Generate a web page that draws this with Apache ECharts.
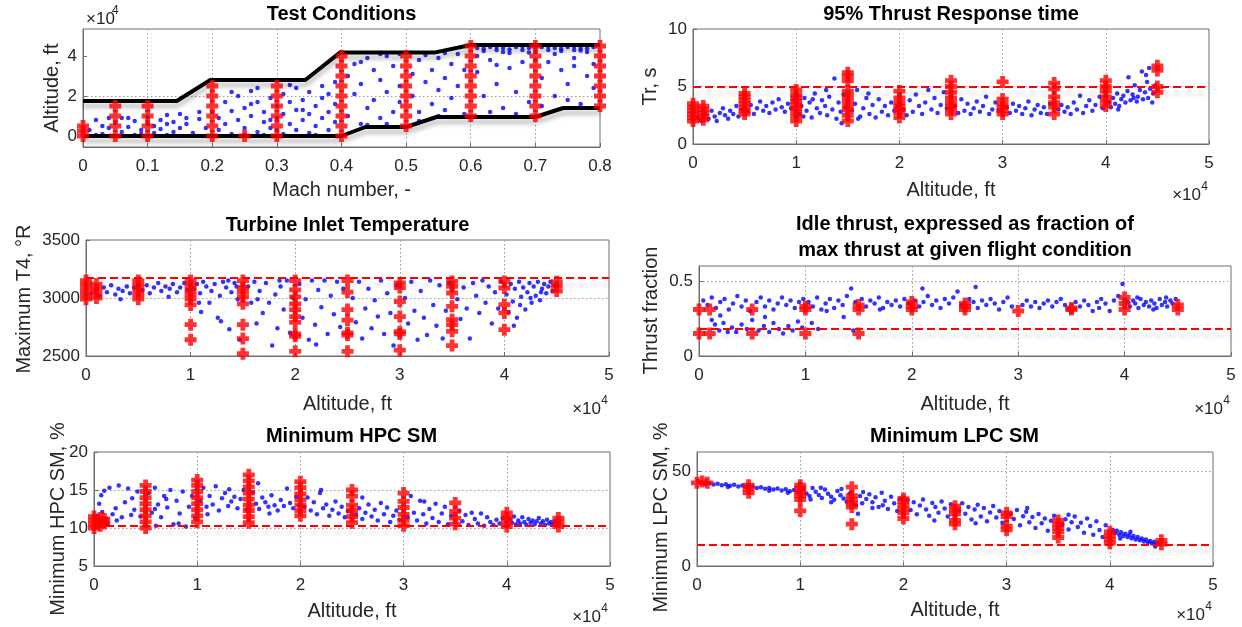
<!DOCTYPE html>
<html><head><meta charset="utf-8">
<script src="https://cdn.jsdelivr.net/npm/echarts@6/dist/echarts.min.js"></script>
<style>html,body{margin:0;padding:0;background:#fff}#c{width:1242px;height:627px}</style>
</head><body><div id="c"></div>
<script>
// ---------------- DATA ----------------
// Panel 1: Test conditions (Mach, altitude in kft)
const envUpper = [[0,17.5],[0.145,17.5],[0.197,28],[0.344,28],[0.398,41.8],[0.545,41.8],[0.6,45.5],[0.8,45.5]];
const envLower = [[0,0],[0.4,0],[0.437,4.5],[0.5,4.5],[0.547,9.5],[0.7,9.5],[0.743,14],[0.8,14]];
const condRed = [[0,0],[0,2.5],[0,5],
 [0.05,0],[0.05,5],[0.05,10],[0.05,15],
 [0.1,0],[0.1,5],[0.1,10],[0.1,15],
 [0.2,0],[0.2,5],[0.2,10],[0.2,15],[0.2,20],[0.2,25],
 [0.25,0],
 [0.3,0],[0.3,5],[0.3,10],[0.3,15],[0.3,20],[0.3,25],
 [0.4,0],[0.4,5],[0.4,10],[0.4,15],[0.4,20],[0.4,25],[0.4,30],[0.4,35],[0.4,40],
 [0.5,5],[0.5,10],[0.5,15],[0.5,20],[0.5,25],[0.5,30],[0.5,35],[0.5,40],
 [0.6,10],[0.6,15],[0.6,20],[0.6,25],[0.6,30],[0.6,35],[0.6,40],[0.6,45],
 [0.7,10],[0.7,15],[0.7,20],[0.7,25],[0.7,30],[0.7,35],[0.7,40],[0.7,45],
 [0.8,15],[0.8,20],[0.8,25],[0.8,30],[0.8,35],[0.8,40],[0.8,45]];
const condBlue = [
 [0.01,3],[0.02,8],[0.03,5],[0.03,1],[0.04,9],[0.05,6.5],[0.06,2],[0.06,9],[0.07,4.5],[0.08,7.5],[0.08,0.5],[0.09,3],[0.1,9.5],[0.11,5],[0.11,1.5],[0.12,8],[0.12,3.5],[0.13,6],[0.13,10.5],[0.14,2],[0.14,7],[0.15,4],[0.15,11],[0.02,0.5],[0.04,4],[0.07,9],[0.1,6],[0.09,1],[0.13,0.5],[0.16,9],[0.16,6],[0.17,1.5],[0.18,8.5],[0.18,12],[0.19,4],
 [0.2,12],[0.21,3],[0.21,9],[0.22,17],[0.22,6],[0.23,1],[0.23,12.5],[0.24,20],[0.24,8],[0.25,14],[0.25,4],[0.26,10],[0.26,22.5],[0.27,2],[0.27,17],[0.28,7],[0.28,12],[0.29,19],[0.29,4],[0.3,9],[0.3,15],[0.31,1],[0.31,11],[0.31,21],[0.32,6],[0.32,17],[0.33,3],[0.33,13],[0.33,24],[0.34,8],[0.34,18],[0.35,1.5],[0.35,11],[0.35,22],[0.36,5],[0.36,15],[0.37,9],[0.37,25],[0.37,19],[0.38,3],[0.38,12],[0.38,21],[0.39,7],[0.39,16],[0.39,27],[0.36,0.5],[0.32,25.5],[0.27,24],[0.23,22],[0.3,3],[0.25,0.5],[0.28,0.5],[0.34,13],[0.29,8],[0.26,16],
 [0.41,10],[0.41,30],[0.42,21],[0.42,36],[0.43,6],[0.43,26],[0.44,14],[0.44,39],[0.45,33],[0.45,18],[0.46,9],[0.46,28],[0.47,22],[0.47,40],[0.48,12],[0.48,35],[0.49,25],[0.49,17],[0.51,31],[0.51,20],[0.52,38],[0.52,12],[0.53,27],[0.53,40.5],[0.54,16],[0.54,33],[0.55,23],[0.55,39],[0.56,13],[0.56,29],[0.57,36],[0.57,19],[0.58,41],[0.58,25],[0.59,11],[0.59,33],[0.44,5.5],[0.47,6],[0.52,7.5],[0.55,10],[0.43,37],[0.49,41],[0.56,41.5],[0.46,41],
 [0.61,44],[0.61,32],[0.62,42.5],[0.62,20],[0.63,44.5],[0.63,38],[0.64,43],[0.64,26],[0.65,44],[0.65,14],[0.66,41.5],[0.66,34],[0.67,44.5],[0.67,22],[0.68,43],[0.68,37],[0.69,44],[0.69,17],[0.7,42],[0.71,44.5],[0.71,29],[0.72,43],[0.72,37],[0.73,44],[0.73,20],[0.74,42.5],[0.74,33],[0.75,44.5],[0.75,26],[0.76,43],[0.76,39],[0.77,44],[0.77,16],[0.78,42],[0.78,30],[0.79,44.5],[0.79,36],[0.62,43.8],[0.64,44.6],[0.66,43.2],[0.68,44.8],[0.7,44.2],[0.72,44.8],[0.74,43.6],[0.76,44.7],[0.78,43.9],[0.65,42],[0.69,41.8],[0.73,41],[0.77,42.8],[0.63,12],[0.67,11],[0.71,15],[0.75,18],[0.61,40],[0.79,24],[0.64,35.5],[0.7,38],[0.76,35]];

// Panel 2: 95% thrust response time (altitude kft, s)
const trLimit = 5;
const trRed = [[0,2.0],[0,2.3],[0,2.6],[0,2.9],[0,3.2],[0,3.5],[1,2.1],[1,2.4],[1,2.7],[1,3.0],[1,3.3],
 [5,2.6],[5,2.9],[5,3.2],[5,3.5],[5,3.8],[5,4.1],[5,4.4],
 [10,2.0],[10,2.4],[10,2.8],[10,3.1],[10,3.4],[10,3.7],[10,4.0],[10,4.3],[10,4.7],
 [15,2.0],[15,2.5],[15,3.0],[15,3.4],[15,3.8],[15,4.2],[15,4.6],[15,5.5],[15,5.9],[15,6.2],
 [20,2.3],[20,2.7],[20,3.0],[20,3.3],[20,3.6],[20,4.0],[20,4.6],
 [25,2.6],[25,3.0],[25,3.3],[25,3.6],[25,4.0],[25,4.5],[25,5.0],[25,5.5],
 [30,2.6],[30,2.9],[30,3.2],[30,3.5],[30,3.9],[30,5.4],
 [35,2.6],[35,3.2],[35,3.6],[35,4.1],[35,4.8],[35,5.3],
 [40,3.3],[40,3.7],[40,4.1],[40,4.6],[40,5.0],[40,5.5],
 [45,4.5],[45,5.0],[45,6.4],[45,6.8]];
const trBlue = [
 [0.5,2.3],[0.8,2.0],[1.2,2.6],[1.5,2.2],[1.8,2.9],[2.1,2.4],[2.3,2.0],[2.6,2.7],[2.9,3.1],[3.1,2.5],[3.4,2.2],[3.6,2.9],[3.9,2.6],[4.2,3.3],[4.4,2.4],[4.7,3.0],[5.3,2.8],[5.6,3.4],[5.9,2.6],[6.2,3.1],[6.5,3.7],[6.8,2.9],[7.1,3.3],[7.4,2.7],[7.7,3.6],[8.0,3.0],[8.3,3.9],[8.6,3.2],[8.9,2.8],[9.2,3.5],[9.5,3.1],[9.8,3.8],
 [10.3,2.6],[10.5,3.3],[10.8,4.0],[11.0,2.9],[11.3,3.6],[11.5,2.3],[11.8,4.4],[12.0,3.1],[12.3,2.7],[12.5,3.8],[12.8,3.3],[13.0,2.5],[13.2,4.1],[13.5,3.0],[13.7,5.7],[13.9,2.2],[14.1,3.6],[14.3,2.8],[14.6,4.3],[14.8,3.2],[14.4,1.8],[12.9,4.7],[11.6,3.9],[10.7,2.4],
 [15.4,2.9],[15.7,3.5],[15.9,4.7],[16.2,2.4],[16.5,3.1],[16.8,4.0],[17.1,2.6],[17.4,3.4],[17.7,2.3],[18.0,3.9],[18.3,2.8],[18.6,3.3],[18.9,2.5],[19.2,3.6],[19.5,2.9],[19.8,3.2],[16.0,2.2],[17.0,4.4],
 [20.4,3.0],[20.7,2.5],[21.0,3.8],[21.3,2.8],[21.6,4.3],[21.9,3.3],[22.2,2.6],[22.5,3.6],[22.8,4.7],[23.1,3.0],[23.4,4.0],[23.7,2.7],[24.0,3.4],[24.3,4.5],[24.6,3.1],[25.4,3.3],[25.7,2.7],[26.0,3.9],[26.3,2.9],[26.6,3.5],[26.9,2.6],[27.2,3.1],[27.5,3.7],[27.8,2.8],[28.1,3.3],[28.4,4.1],[28.7,2.6],[29.0,3.0],[29.3,3.6],[29.6,2.9],
 [30.4,3.2],[30.7,2.7],[31.0,3.5],[31.3,2.9],[31.6,3.3],[31.9,2.6],[32.2,3.1],[32.5,3.7],[32.8,2.5],[33.1,3.0],[33.4,3.4],[33.7,2.7],[34.0,3.2],[34.3,2.6],[34.6,3.5],[35.4,3.0],[35.7,3.4],[36.0,2.8],[36.3,3.2],[36.6,2.6],[36.9,3.6],[37.2,3.0],[37.5,4.2],[37.8,2.7],[38.1,3.3],[38.4,3.8],[38.7,2.9],[39.0,3.4],[39.4,4.1],[39.7,3.1],
 [40.3,3.6],[40.5,3.2],[40.7,4.0],[40.9,3.5],[41.1,4.4],[41.3,3.3],[41.5,3.9],[41.7,4.2],[41.9,3.6],[42.1,4.6],[42.2,5.8],[42.4,3.8],[42.6,4.3],[42.8,5.1],[43.0,3.7],[43.1,4.1],[43.3,4.7],[43.5,6.3],[43.6,3.9],[43.8,4.5],[44.0,5.4],[44.1,4.0],[44.3,4.8],[44.5,3.6],[44.6,4.4],[44.8,5.1],[43.9,6.0],[42.7,4.0],[41.2,3.0],[44.2,6.6]];

// Panel 3: maximum T4 (altitude kft, degR)
const t4Limit = 3175;
const t4Red = [[0,2990],[0,3030],[0,3070],[0,3110],[0,3150],[1,3000],[1,3040],[1,3080],[1,3120],
 [5,2990],[5,3030],[5,3070],[5,3110],[5,3150],
 [10,2640],[10,2770],[10,2940],[10,2990],[10,3030],[10,3070],[10,3110],[10,3150],
 [15,2520],[15,2650],[15,2770],[15,2950],[15,3010],[15,3050],[15,3090],[15,3150],
 [20,2540],[20,2670],[20,2690],[20,2790],[20,2840],[20,2900],[20,2950],[20,3010],[20,3070],[20,3150],
 [25,2540],[25,2680],[25,2700],[25,2810],[25,2900],[25,3050],[25,3150],
 [30,2550],[30,2690],[30,2710],[30,2840],[30,2970],[30,3090],[30,3130],
 [35,2590],[35,2713],[35,2770],[35,2813],[35,2928],[35,3043],[35,3100],[35,3143],
 [40,2727],[40,2871],[40,2942],[40,3086],[40,3143],
 [45,3060],[45,3100],[45,3140]];
const t4Blue = [
 [0.5,3040],[0.9,3070],[1.3,3020],[1.7,3090],[2.0,3050],[2.4,3110],[2.8,3030],[3.1,3080],[3.5,3060],[3.9,3100],[4.2,3040],[4.6,3090],[5.4,3070],[5.8,3110],[6.1,3040],[6.5,3090],[6.9,3130],[7.2,3060],[7.6,3100],[8.0,3080],[8.3,3120],[8.7,3050],[9.0,3090],[9.4,3130],[9.7,3070],[3.3,2990],[7.9,3010],
 [10.3,3080],[10.6,3120],[10.9,3040],[11.2,3140],[11.5,3100],[11.8,2960],[12.0,3060],[12.3,3120],[12.6,2830],[12.8,3020],[13.1,3140],[13.4,3090],[13.7,2730],[13.9,3050],[14.2,3130],[14.5,2990],[14.7,2640],[11.0,2880],[12.9,2800],[14.4,3100],[10.8,2960],[13.6,3150],
 [15.5,3100],[15.8,2960],[16.1,3140],[16.3,2780],[16.6,3060],[16.9,2870],[17.2,3130],[17.5,2960],[17.8,2590],[18.1,3030],[18.3,2740],[18.6,3100],[18.9,2900],[19.2,3150],[19.5,2700],[19.8,3000],[20.4,3120],[20.7,2830],[21.0,2990],[21.3,2640],[21.6,3150],[21.9,2770],[22.2,3070],[22.5,2920],[22.8,3150],[23.1,2690],[23.4,3020],[23.7,2860],[24.0,3140],[24.3,2750],[24.6,3080],[16.4,2990],[18.5,3150],[22.0,2600],
 [25.5,3000],[25.8,2790],[26.1,3140],[26.4,2650],[26.7,2910],[27.0,3080],[27.3,2740],[27.6,2980],[27.9,2840],[28.2,3150],[28.5,2690],[28.8,3040],[29.1,2870],[29.4,2590],[29.7,3110],[30.5,3000],[30.8,2780],[31.1,3140],[31.4,2890],[31.7,2640],[32.0,3060],[32.3,2830],[32.6,2680],[32.9,3150],[33.2,2940],[33.5,2760],[33.8,3110],[34.1,2650],[34.4,2890],[34.7,3130],[35.5,2990],[35.8,2820],[36.1,3090],[36.4,2910],[36.7,2650],[37.0,3130],[37.3,3020],[37.6,2870],[37.9,3150],[38.2,2960],[38.5,3100],[38.8,2780],[39.1,3050],[39.4,2910],[39.7,3140],
 [40.2,3030],[40.4,2880],[40.6,3120],[40.8,2970],[41.0,3080],[41.2,2830],[41.4,3140],[41.6,3010],[41.8,3090],[42.0,2900],[42.2,3050],[42.4,3130],[42.6,2960],[42.8,3100],[43.0,3020],[43.2,3140],[43.4,2980],[43.6,3080],[43.8,3120],[44.0,3040],[44.2,3100],[44.4,3140],[44.6,3060],[44.8,3110],[42.5,3000],[43.5,3050],[41.5,2940],[40.9,2760]];

// Panel 4: idle thrust fraction (altitude kft, fraction)
const idleLimit = 0.18;
const idleRed = [[0,0.15],[0,0.31],[1,0.15],[1,0.31],[5,0.15],[5,0.31],[10,0.15],[10,0.31],[10,0.33],[15,0.15],[15,0.31],[15,0.34],
 [20,0.31],[20,0.33],[20,0.36],[25,0.31],[25,0.33],[25,0.35],[30,0.30],[35,0.31],[35,0.32],[40,0.31],[40,0.35],[40,0.39],[45,0.31],[45,0.34]];
const idleBlue = [
 [0.4,0.37],[0.8,0.34],[1.2,0.39],[1.6,0.32],[2.0,0.36],[2.4,0.38],[2.8,0.31],[3.2,0.35],[3.6,0.40],[4.0,0.33],[4.4,0.37],[4.8,0.30],[5.4,0.36],[5.8,0.39],[6.2,0.33],[6.6,0.37],[7.0,0.31],[7.4,0.35],[7.8,0.39],[8.2,0.34],[8.6,0.37],[9.0,0.32],[9.4,0.36],[9.8,0.38],
 [1.2,0.24],[1.5,0.21],[1.9,0.17],[2.3,0.22],[2.7,0.16],[3.1,0.19],[3.5,0.16],[4.0,0.21],[4.5,0.18],[5.0,0.24],[5.6,0.17],[6.1,0.20],[6.6,0.16],[7.0,0.22],[7.5,0.18],[7.9,0.15],[8.4,0.20],[8.8,0.17],[9.3,0.23],[9.7,0.19],[10.6,0.22],[11.2,0.18],[13.6,0.26],[14.5,0.17],[2.0,0.27],[6.2,0.26],
 [10.3,0.36],[10.7,0.33],[11.1,0.39],[11.5,0.31],[11.9,0.35],[12.3,0.38],[12.7,0.32],[13.1,0.37],[13.5,0.34],[13.9,0.40],[14.3,0.45],[14.7,0.36],[15.3,0.38],[15.7,0.33],[16.1,0.37],[16.5,0.35],[16.9,0.39],[17.3,0.32],[17.7,0.36],[18.1,0.34],[18.5,0.37],[18.9,0.33],[19.3,0.38],[19.7,0.35],[12.0,0.30],[17.0,0.31],
 [20.3,0.37],[20.7,0.33],[21.1,0.36],[21.5,0.40],[21.9,0.34],[22.3,0.37],[22.7,0.32],[23.1,0.38],[23.5,0.35],[23.9,0.39],[24.3,0.43],[24.7,0.34],[25.4,0.38],[25.8,0.36],[26.2,0.32],[26.6,0.37],[27.0,0.34],[27.4,0.38],[27.8,0.35],[28.2,0.31],[28.6,0.36],[29.0,0.39],[29.4,0.33],[26.0,0.46],[21.0,0.45],
 [30.4,0.34],[30.8,0.37],[31.2,0.33],[31.6,0.36],[32.0,0.32],[32.4,0.35],[32.8,0.37],[33.2,0.33],[33.6,0.36],[34.0,0.38],[34.4,0.34],[34.8,0.31],[35.4,0.36],[35.8,0.33],[36.2,0.37],[36.6,0.34],[37.0,0.30],[37.4,0.36],[37.8,0.38],[38.2,0.35],[38.6,0.30],[39.0,0.37],[39.4,0.40],[39.8,0.48],[37.6,0.32],
 [40.3,0.36],[40.5,0.33],[40.8,0.37],[41.0,0.35],[41.3,0.32],[41.5,0.38],[41.8,0.34],[42.0,0.36],[42.3,0.33],[42.5,0.37],[42.8,0.35],[43.0,0.32],[43.3,0.38],[43.5,0.34],[43.8,0.36],[44.0,0.33],[44.3,0.37],[44.5,0.35],[44.8,0.38],[41.2,0.39],[42.7,0.31],[43.9,0.39]];

// Panel 5: minimum HPC stall margin (altitude kft, %)
const hpcLimit = 10.3;
const hpcRed = [[0,10.0],[0,10.5],[0,11.0],[0,11.5],[0.6,10.3],[0.6,10.8],[0.6,11.3],[1,10.6],[1,11.2],
 [5,10.0],[5,10.8],[5,11.6],[5,12.4],[5,13.2],[5,14.0],[5,14.8],[5,15.6],
 [10,10.8],[10,11.6],[10,12.4],[10,13.2],[10,14.0],[10,14.8],[10,15.6],[10,16.3],
 [15,10.7],[15,11.5],[15,12.3],[15,13.0],[15,13.8],[15,14.6],[15,15.4],[15,16.2],[15,17.0],
 [20,11.6],[20,12.3],[20,13.0],[20,13.7],[20,14.5],[20,15.3],[20,16.1],
 [25,10.7],[25,11.5],[25,12.3],[25,13.0],[25,14.2],[25,15.0],
 [30,10.3],[30,11.0],[30,11.8],[30,12.7],[30,13.5],[30,14.6],
 [35,10.5],[35,11.3],[35,12.2],[35,13.3],
 [40,10.2],[40,10.8],[40,11.4],[40,12.0],
 [45,10.2],[45,10.8],[45,11.3]];
const hpcBlue = [
 [0.3,11.6],[0.5,13.2],[0.8,12.1],[1.0,14.9],[1.2,11.2],[1.5,15.3],[1.8,11.8],[2.1,12.6],[2.4,15.6],[2.7,11.4],[3.0,13.4],[3.3,15.2],[3.6,11.7],[3.9,12.4],[4.2,14.8],[4.5,11.5],[2.2,11.0],[3.7,13.9],[1.3,10.7],[0.7,14.3],
 [5.3,14.6],[5.6,12.0],[5.9,15.3],[6.2,13.1],[6.5,11.4],[6.8,14.2],[7.1,12.7],[7.4,15.0],[7.7,10.5],[8.0,13.6],[8.3,11.9],[8.6,14.8],[8.9,10.2],[9.2,12.8],[9.5,14.2],[9.8,11.3],[6.0,10.3],[8.2,10.6],[7.0,13.8],[5.9,12.5],
 [10.3,13.6],[10.6,15.3],[10.9,12.8],[11.2,14.2],[11.5,13.1],[11.8,15.5],[12.1,12.3],[12.4,13.9],[12.7,14.6],[13.0,12.9],[13.3,13.5],[13.6,14.1],[13.9,12.6],[14.2,13.8],[14.5,15.0],[14.8,12.4],[15.4,14.7],[15.7,13.2],[16.0,12.5],[16.3,14.0],[16.6,13.4],[16.9,12.8],[17.2,14.3],[17.5,13.0],[17.8,12.3],[18.1,13.7],[18.4,12.9],[18.7,15.2],[19.0,13.3],[19.3,12.6],[19.6,14.1],[19.9,13.0],[11.0,11.8],[15.9,15.9],[13.1,15.1],[17.0,11.9],
 [20.4,12.8],[20.7,14.0],[21.0,12.3],[21.3,13.4],[21.6,11.8],[21.9,14.6],[22.2,12.6],[22.5,13.1],[22.8,11.6],[23.1,12.4],[23.4,13.5],[23.7,11.9],[24.0,12.8],[24.3,11.4],[24.6,12.2],[25.4,11.7],[25.7,12.6],[26.0,11.2],[26.3,12.0],[26.6,13.1],[26.9,11.5],[27.2,12.4],[27.5,11.0],[27.8,13.3],[28.1,11.8],[28.4,12.7],[28.7,10.8],[29.0,11.6],[29.3,12.3],[29.6,11.1],[22.0,15.0],[26.0,14.0],
 [30.4,11.4],[30.7,14.2],[31.0,12.0],[31.3,11.0],[31.6,13.6],[31.9,11.8],[32.2,10.6],[32.5,12.5],[32.8,11.3],[33.1,13.2],[33.4,10.8],[33.7,11.9],[34.0,12.8],[34.3,10.5],[34.6,11.6],[35.4,12.3],[35.7,10.9],[36.0,11.7],[36.3,10.4],[36.6,12.0],[36.9,11.2],[37.2,10.6],[37.5,11.9],[37.8,10.3],[38.1,11.4],[38.4,10.8],[38.7,10.4],[39.0,11.1],[39.3,10.6],[39.6,11.3],[32.0,13.5],
 [40.3,11.2],[40.5,10.7],[40.7,11.5],[40.9,10.5],[41.1,11.0],[41.3,10.6],[41.5,11.4],[41.7,10.8],[41.9,10.4],[42.1,11.2],[42.3,10.7],[42.5,11.0],[42.7,10.5],[42.9,10.9],[43.1,11.3],[43.3,10.6],[43.5,10.9],[43.7,10.4],[43.9,11.1],[44.1,10.6],[44.3,10.8],[44.5,10.5],[44.7,10.9]];

// Panel 6: minimum LPC stall margin (altitude kft, %)
const lpcLimit = 11;
const lpcRed = [[0,43.8],[1,43.8],[0.5,44.5],
 [5,38.5],[5,40.5],[5,42.5],
 [10,29],[10,35],[10,37],[10,39],[10,41],[10,42.5],
 [15,22],[15,31],[15,33],[15,35],[15,37],[15,41.5],
 [20,25],[20,28],[20,30],[20,32],[20,34],[20,35.5],
 [25,22],[25,24],[25,27.5],[25,29.5],[25,31.5],
 [30,19],[30,21],[30,26],[30,28],
 [35,15],[35,18],[35,20],[35,22],[35,24],
 [40,12],[40,14],[40,16],[40,18],
 [45,11.5],[45,13.5]];
const lpcBlue = [
 [0.4,43.8],[0.8,43.2],[1.2,43.6],[1.6,42.9],[2.0,43.3],[2.4,42.5],[2.8,43.0],[3.2,42.2],[3.6,42.7],[4.0,41.9],[4.4,42.4],[4.8,41.6],[5.4,41.8],[5.8,41.0],[6.2,41.5],[6.6,40.6],[7.0,41.1],[7.4,40.2],[7.8,40.8],[8.2,39.8],[8.6,40.4],[9.0,39.4],[9.4,40.0],[9.8,38.9],[3.0,41.6],[7.0,39.6],[5.0,42.5],[8.8,38.5],
 [10.3,40.5],[10.6,38.2],[10.9,36.8],[11.2,41.0],[11.5,39.1],[11.8,37.4],[12.1,35.8],[12.4,40.3],[12.7,38.0],[13.0,36.5],[13.3,34.9],[13.6,39.5],[13.9,37.2],[14.2,35.5],[14.5,33.8],[14.8,38.2],[11.0,35.0],[13.0,33.5],[14.0,40.5],[12.0,41.2],
 [15.4,32.0],[15.6,27.5],[15.8,36.8],[16.1,39.0],[16.4,35.2],[16.7,37.8],[17.0,33.5],[17.3,36.2],[17.6,31.0],[17.9,38.5],[18.2,34.4],[18.5,30.0],[18.8,36.5],[19.1,33.0],[19.4,29.0],[19.7,35.5],[16.0,33.0],[18.0,32.0],[17.0,30.5],
 [20.4,34.8],[20.7,29.5],[21.0,33.6],[21.3,27.2],[21.6,31.8],[21.9,35.0],[22.2,29.8],[22.5,26.5],[22.8,33.2],[23.1,31.0],[23.4,28.0],[23.7,34.0],[24.0,30.2],[24.3,26.0],[24.6,32.5],[25.4,29.2],[25.7,33.0],[26.0,27.5],[26.3,31.0],[26.6,24.5],[26.9,29.8],[27.2,32.2],[27.5,26.0],[27.8,30.5],[28.1,23.5],[28.4,28.2],[28.7,31.6],[29.0,25.5],[29.3,29.0],[29.6,22.8],[23.0,24.0],[27.0,22.5],
 [30.4,27.5],[30.7,24.8],[31.0,29.5],[31.3,21.5],[31.6,26.2],[31.9,28.6],[32.2,23.0],[32.5,25.8],[32.8,20.0],[33.1,27.4],[33.4,22.5],[33.7,25.0],[34.0,18.5],[34.3,23.8],[34.6,26.5],[35.4,21.8],[35.7,24.6],[36.0,19.2],[36.3,23.0],[36.6,26.0],[36.9,20.5],[37.2,22.8],[37.5,17.5],[37.8,25.0],[38.1,21.0],[38.4,16.5],[38.7,23.5],[39.0,19.0],[39.3,15.2],[39.6,21.5],[32.0,30.5],[36.0,27.0],
 [40.3,19.0],[40.5,17.2],[40.7,18.6],[40.9,16.4],[41.1,17.8],[41.3,15.8],[41.5,17.0],[41.7,15.2],[41.9,16.5],[42.1,14.6],[42.3,15.8],[42.5,14.0],[42.7,15.2],[42.9,13.5],[43.1,14.5],[43.3,12.9],[43.5,13.9],[43.7,12.4],[43.9,13.2],[44.1,11.9],[44.3,12.7],[44.5,11.5],[44.7,12.2],[44.4,10.3],[41.0,14.5],[42.0,18.0]];

// Tick values / texts
const condAltTicks = [0, 20, 40];
const titles = ['Test Conditions', '95% Thrust Response time', 'Turbine Inlet Temperature',
  'Idle thrust, expressed as fraction of', 'max thrust at given flight condition', 'Minimum HPC SM', 'Minimum LPC SM'];
const xNames = ['Mach number, -', 'Altitude, ft', 'Altitude, ft', 'Altitude, ft', 'Altitude, ft', 'Altitude, ft'];
const yNames = ['Altitude, ft', 'Tr, s', 'Maximum T4, \u00B0R', 'Thrust fraction', 'Minimum HPC SM, %', 'Minimum LPC SM, %'];

// ---------------- CHART ----------------
const FF = '"Liberation Sans", Arial, Helvetica, sans-serif';
const TXT = '#262626';
const BOX = '#6e6e6e';
const PLUS = 'path://M3,0H7V3H10V7H7V10H3V7H0V3H3Z';

const grids = [
  {left:83, top:29, width:517, height:118},
  {left:693, top:29, width:516, height:115},
  {left:86, top:240, width:523, height:116},
  {left:699, top:266, width:532, height:90},
  {left:94, top:452, width:516, height:114},
  {left:697, top:452, width:516, height:114}
].map(g => Object.assign(g, {show:true, borderColor:BOX, borderWidth:1, backgroundColor:'#fff', containLabel:false, outerBoundsMode:'none'}));

function axisBase(gi, extra, lblMargin) {
  return Object.assign({
    gridIndex: gi, type:'value',
    axisLine:{show:true, onZero:false, lineStyle:{color:BOX, width:1}},
    axisTick:{show:true, inside:true, length:4, lineStyle:{color:BOX}},
    axisLabel:{fontSize:17, color:TXT, fontFamily:FF, margin:lblMargin, formatter: v => String(v)},
    splitLine:{show:true, showMinLine:false, showMaxLine:false, lineStyle:{color:'#9c9c9c', type:[1.5,2.5], width:1}}
  }, extra);
}
const altFmt = v => String(Math.round(v) / 10);
const xAxes = [
  axisBase(0, {min:0, max:0.8, interval:0.1}, 11),
  axisBase(1, {min:0, max:50, interval:10}, 11),
  axisBase(2, {min:0, max:50, interval:10}, 11),
  axisBase(3, {min:0, max:50, interval:10}, 11),
  axisBase(4, {min:0, max:50, interval:10}, 11),
  axisBase(5, {min:0, max:50, interval:10}, 11)
];
xAxes[0].axisLabel.formatter = v => (v === 0 ? '0' : String(Math.round(v * 10) / 10));
for (let i = 1; i < 6; i++) xAxes[i].axisLabel.formatter = altFmt;

const yAxes = [
  axisBase(0, {min:-5.5, max:53.5}, 6),
  axisBase(1, {min:0, max:10, interval:5}, 6),
  axisBase(2, {min:2500, max:3500, interval:500}, 6),
  axisBase(3, {min:0, max:0.6, interval:0.5}, 6),
  axisBase(4, {min:5, max:20, interval:5}, 6),
  axisBase(5, {min:0, max:60, interval:50}, 6)
];
yAxes[0].axisLabel.customValues = condAltTicks;
yAxes[0].axisTick.customValues = condAltTicks;
yAxes[0].axisLabel.formatter = altFmt;
yAxes[3].axisLabel.showMaxLabel = false;
yAxes[5].axisLabel.showMaxLabel = false;

const series = [];
function blue(i, data) {
  series.push({type:'scatter', xAxisIndex:i, yAxisIndex:i, data, symbol:'circle', symbolSize:4.5,
    itemStyle:{color:'#0000ff'}, z:2, silent:true, animation:false});
}
function red(i, data, limit) {
  const s = {type:'scatter', xAxisIndex:i, yAxisIndex:i, data, symbol:PLUS, symbolSize:12,
    itemStyle:{color:'#ff0000'}, z:4, silent:true, animation:false};
  if (limit !== undefined) {
    s.markLine = {silent:true, symbol:'none', animation:false, label:{show:false},
      lineStyle:{color:'#ff0000', type:[8,4], width:2, shadowColor:'rgba(0,0,0,0.16)', shadowBlur:4, shadowOffsetY:7},
      data:[{yAxis:limit}]};
  }
  series.push(s);
}
function envelope(data) {
  series.push({type:'line', xAxisIndex:0, yAxisIndex:0, data, symbol:'none', z:3, silent:true, animation:false,
    lineStyle:{color:'#000', width:4, shadowColor:'rgba(0,0,0,0.25)', shadowBlur:4, shadowOffsetY:5}});
}
blue(0, condBlue); envelope(envUpper); envelope(envLower); red(0, condRed);
blue(1, trBlue); red(1, trRed, trLimit);
blue(2, t4Blue); red(2, t4Red, t4Limit);
blue(3, idleBlue); red(3, idleRed, idleLimit);
blue(4, hpcBlue); red(4, hpcRed, hpcLimit);
blue(5, lpcBlue); red(5, lpcRed, lpcLimit);

function text(x, y, t, size, opt) {
  opt = opt || {};
  return {type:'text', x, y, rotation: opt.rot || 0, silent:true, z:50,
    style:{text:t, fontSize:size, fontFamily:FF, fontWeight:opt.bold ? 'bold' : 'normal',
      fill: opt.fill || TXT, align: opt.align || 'center', verticalAlign:'middle'}};
}
function exp10(right, cy) {
  return [text(right - 7, cy, '\u00D710', 17, {align:'right'}), text(right, cy - 8, '4', 12, {align:'right'})];
}
const graphics = [
  text(341.5, 14, titles[0], 20, {bold:true, fill:'#000'}),
  text(951, 14, titles[1], 20, {bold:true, fill:'#000'}),
  text(347.5, 225, titles[2], 20, {bold:true, fill:'#000'}),
  text(965, 224, titles[3], 20, {bold:true, fill:'#000'}),
  text(965, 250, titles[4], 20, {bold:true, fill:'#000'}),
  text(351.5, 436, titles[5], 20, {bold:true, fill:'#000'}),
  text(954.5, 436, titles[6], 20, {bold:true, fill:'#000'}),
  text(341.5, 190, xNames[0], 20),
  text(951, 190, xNames[1], 20),
  text(347.5, 404, xNames[2], 20),
  text(965, 404, xNames[3], 20),
  text(352, 611, xNames[4], 20),
  text(955, 610, xNames[5], 20),
  text(52, 88, yNames[0], 20, {rot:Math.PI/2}),
  text(650.5, 86.5, yNames[1], 20, {rot:Math.PI/2}),
  text(24, 299, yNames[2], 20, {rot:Math.PI/2}),
  text(651, 310.5, yNames[3], 20, {rot:Math.PI/2}),
  text(58, 519, yNames[4], 20, {rot:Math.PI/2}),
  text(661.5, 517.5, yNames[5], 20, {rot:Math.PI/2}),
  text(86, 19, '\u00D710', 17, {align:'left'}), text(112, 11, '4', 12, {align:'left'})
].concat(exp10(1208, 195), exp10(608, 409), exp10(1230, 409), exp10(608, 617), exp10(1212, 615));

const chart = echarts.init(document.getElementById('c'), null, {renderer:'canvas', width:1242, height:627});
chart.setOption({
  backgroundColor:'#ffffff',
  animation:false,
  textStyle:{fontFamily:FF},
  grid: grids,
  xAxis: xAxes,
  yAxis: yAxes,
  series,
  graphic: graphics
});
</script></body></html>
